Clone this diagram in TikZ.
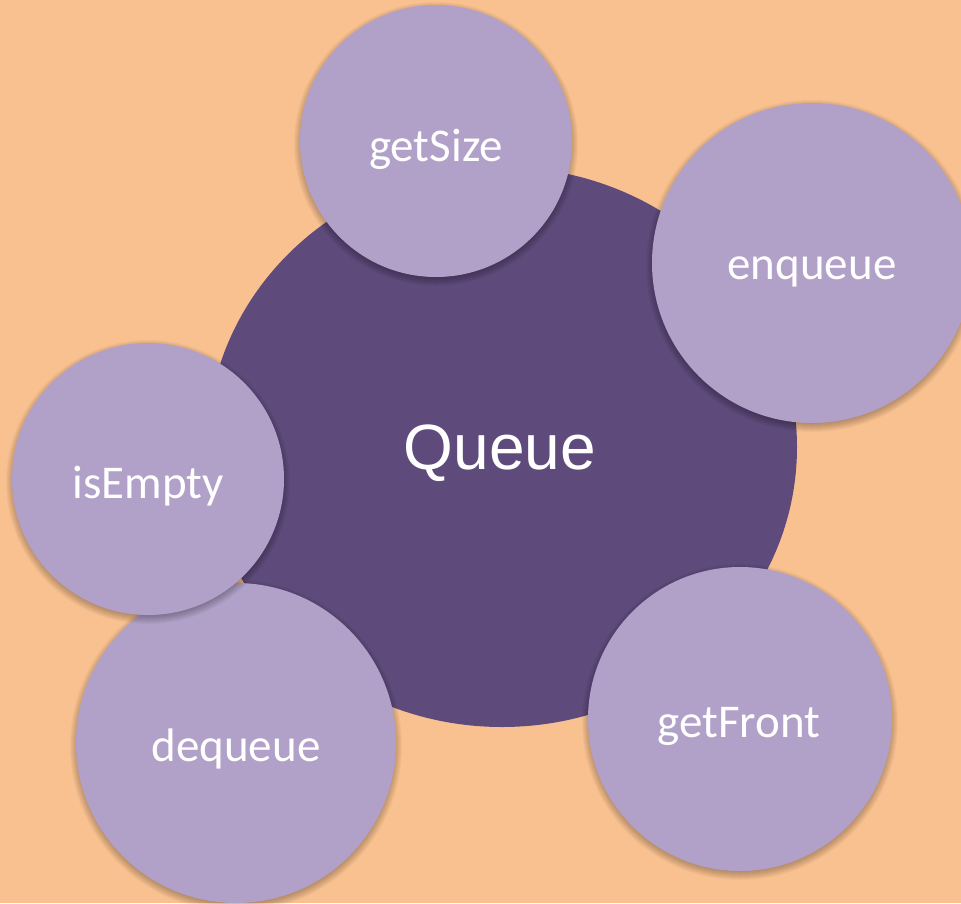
\documentclass[tikz,border=0pt]{standalone}
\usepackage{fontspec}
\setmainfont{Carlito}
\newfontfamily\queuefont{Liberation Sans}
\usetikzlibrary{shapes.geometric}
\definecolor{bgpeach}{HTML}{F9C190}
\definecolor{lilac}{HTML}{B1A1C8}
\definecolor{deeppurple}{HTML}{5F4B7B}
\tikzset{
  opcircle/.style={circle, fill=lilac, inner sep=0pt},
  oplabel/.style={text=white, font=\fontsize{47}{56}\selectfont},
  hub/.style={ellipse, fill=deeppurple, inner sep=0pt},
  hublabel/.style={text=white, font=\queuefont\fontsize{64}{76}\selectfont},
  softshade/.style={fill=black, opacity=0.03}
}
% soft shadow: centre x, centre y, radius
\newcommand{\myshadow}[3]{%
  \foreach \k in {0,...,9}{%
    \fill[softshade] (#1,#2+3) circle[radius=#3-3+\k];
  }%
}
\begin{document}
\begin{tikzpicture}[x=1pt,y=-1pt]
\useasboundingbox (0,0) rectangle (961,903);
\clip (0,0) rectangle (961,903);
\fill[bgpeach] (0,0) rectangle (961,903);
\node[hub, minimum width=590pt, minimum height=560pt] (queue) at (502,447) {};
\node[hublabel] (queuelabel) at (500,453) {Queue};
\myshadow{436}{141}{136}
\node[opcircle, minimum size=272pt] (getsize) at (436,141) {};
\node[oplabel] (getsizelabel) at (436,149) {getSize};
\myshadow{812}{263}{160}
\node[opcircle, minimum size=320pt] (enqueue) at (812,263) {};
\node[oplabel] (enqueuelabel) at (812,272) {enqueue};
\myshadow{740}{719}{152}
\node[opcircle, minimum size=304pt] (getfront) at (740,719) {};
\node[oplabel] (getfrontlabel) at (739,726) {getFront};
\myshadow{236}{743}{160}
\node[opcircle, minimum size=320pt] (dequeue) at (236,743) {};
\node[oplabel] (dequeuelabel) at (236,749) {dequeue};
\myshadow{148}{479}{136}
\node[opcircle, minimum size=272pt] (isempty) at (148,479) {};
\node[oplabel] (isemptylabel) at (148,486) {isEmpty};
\end{tikzpicture}
\end{document}
